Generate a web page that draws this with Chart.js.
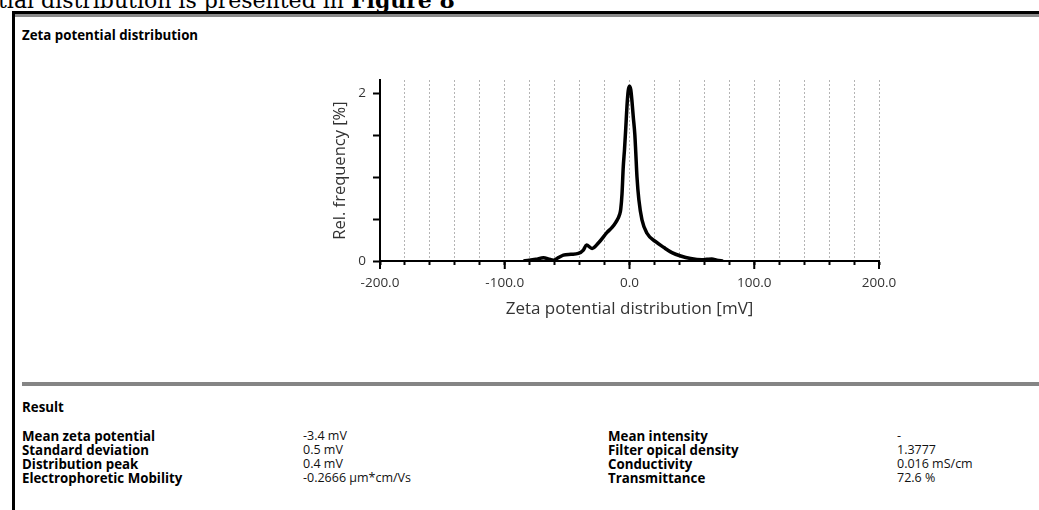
<!DOCTYPE html>
<html>
<head>
<meta charset="utf-8">
<script src="https://cdn.jsdelivr.net/npm/chart.js@4.4.1/dist/chart.umd.min.js"></script>
<style>
  html, body { margin: 0; padding: 0; background: #fff; }
  body { width: 1039px; height: 510px; position: relative; overflow: hidden; font-family: "Open Sans", sans-serif; }
  .doc { position: absolute; left: -2px; top: -13px; font-family: "DejaVu Serif", serif; font-size: 22px; color: #000; white-space: nowrap; }
  .boxTop { position: absolute; left: 12px; top: 11px; right: 0; height: 3px; background: #000; }
  .boxTopGray { position: absolute; left: 15px; top: 14px; right: 0; height: 3px; background: #8a8a8a; }
  .boxLeft { position: absolute; left: 12px; top: 11px; width: 3px; bottom: 0; background: #000; }
  .divider { position: absolute; left: 22px; top: 382px; right: 0; height: 4px; background: #858585; }
  .t { position: absolute; font-size: 12.5px; color: #111; white-space: nowrap; line-height: 14px; }
  .b { font-weight: bold; font-size: 13.3px; color: #000; }
  #wrap { position: absolute; left: 300px; top: 60px; width: 640px; height: 280px; }
</style>
</head>
<body>
<div class="doc">tial distribution is presented in <b>Figure 8</b></div>
<div class="boxTop"></div>
<div class="boxTopGray"></div>
<div class="boxLeft"></div>
<div class="t b" style="left:22px; top:28px;">Zeta potential distribution</div>
<div id="wrap"><canvas id="myChart"></canvas></div>
<div class="divider"></div>
<div class="t b" style="left:22px; top:400px;">Result</div>
<div class="t b" style="left:22px; top:429px;">Mean zeta potential<br>Standard deviation<br>Distribution peak<br>Electrophoretic Mobility</div>
<div class="t" style="left:303px; top:429px;">-3.4 mV<br>0.5 mV<br>0.4 mV<br>-0.2666 µm*cm/Vs</div>
<div class="t b" style="left:608px; top:429px;">Mean intensity<br>Filter opical density<br>Conductivity<br>Transmittance</div>
<div class="t" style="left:897px; top:429px;">-<br>1.3777<br>0.016 mS/cm<br>72.6 %</div>
<script>
// zeta potential [mV] and relative frequency [%]
const zetaMV = [-85, -75, -69, -64, -61, -57, -53, -47, -41, -37, -34.5, -30, -24.6, -18, -14, -11, -7.8, -7, -6, -5, -4, -3, -2, -1, 0, 1, 2, 3, 4.3, 5, 6, 7.5, 10, 14, 21, 27.6, 34, 41, 49, 58, 62, 66, 70, 75];
const relFreq = [0, 0.02, 0.04, 0.02, 0.01, 0.04, 0.07, 0.08, 0.09, 0.13, 0.19, 0.15, 0.22, 0.34, 0.40, 0.46, 0.56, 0.62, 0.80, 1.12, 1.33, 1.58, 1.85, 2.03, 2.08, 2.04, 1.90, 1.72, 1.50, 1.30, 1.00, 0.73, 0.49, 0.33, 0.23, 0.16, 0.10, 0.06, 0.03, 0.015, 0.02, 0.025, 0.01, 0];

const xTicks = [-200, -180, -160, -140, -120, -100, -80, -60, -40, -20, 0, 20, 40, 60, 80, 100, 120, 140, 160, 180, 200];
const xLabelled = [-200, -100, 0, 100, 200];
const yTicks = [0, 0.5, 1, 1.5, 2];
const yLabelled = [0, 2];

var points = [];
for (var i = 0; i < zetaMV.length; i++) {
	points.push({x: zetaMV[i], y: relFreq[i]});
}

// longer tick marks at the labelled values
const majorTicks = {
	id: 'majorTicks',
	afterDraw: function(chart) {
		let sc = chart.scales.x;
		let ctx = chart.ctx;
		ctx.save();
		ctx.strokeStyle = '#000';
		ctx.lineWidth = 2;
		xLabelled.forEach(function(v) {
			let px = sc.getPixelForValue(v);
			ctx.beginPath();
			ctx.moveTo(px, sc.top);
			ctx.lineTo(px, sc.top + 8);
			ctx.stroke();
		});
		ctx.restore();
	}
};

const data = {
	datasets: [{
		label: 'Zeta potential distribution',
		data: points,
		borderColor: '#000',
		borderWidth: 3.5,
		pointRadius: 0,
		fill: false,
		cubicInterpolationMode: 'monotone'
	}]
};

const config = {
	type: 'line',
	data: data,
	options: {
		responsive: true,
		maintainAspectRatio: false,
		animation: false,
		layout: { padding: { top: 20, right: 61, left: 0, bottom: 0 } },
		plugins: { legend: { display: false }, tooltip: { enabled: false } },
		scales: {
			x: {
				type: 'linear',
				min: -200,
				max: 200,
				afterFit: function(s) { s.height = 79; },
				afterBuildTicks: function(s) { s.ticks = xTicks.map(function(v) { return {value: v}; }); },
				ticks: {
					autoSkip: false,
					maxRotation: 0,
					padding: 10,
					color: '#333',
					font: { family: 'Open Sans', size: 13.5 },
					callback: function(v) { return xLabelled.indexOf(v) >= 0 ? v.toFixed(1) : ''; }
				},
				grid: { color: '#b4b4b4', lineWidth: 1, tickLength: 4, tickColor: '#000', tickWidth: 2 },
				border: { color: '#000', width: 2, dash: [2, 2] },
				title: {
					display: true,
					text: 'Zeta potential distribution [mV]',
					color: '#333',
					font: { family: 'Open Sans', size: 17 },
					padding: { top: 0, bottom: 21 }
				}
			},
			y: {
				min: 0,
				max: 2.155,
				afterFit: function(s) { s.width = 80; },
				afterBuildTicks: function(s) { s.ticks = yTicks.map(function(v) { return {value: v}; }); },
				ticks: {
					padding: 7,
					color: '#333',
					font: { family: 'Open Sans', size: 13.5 },
					callback: function(v) { return yLabelled.indexOf(v) >= 0 ? String(v) : ''; }
				},
				grid: { drawOnChartArea: false, tickLength: 7, tickColor: '#000', tickWidth: 2 },
				border: { color: '#000', width: 2 },
				title: {
					display: true,
					text: 'Rel. frequency [%]',
					color: '#333',
					font: { family: 'Open Sans', size: 16.5 },
					padding: { top: 30, bottom: 0 }
				}
			}
		}
	},
	plugins: [majorTicks]
};

var myChart = new Chart(document.getElementById('myChart'), config);
</script>
</body>
</html>
